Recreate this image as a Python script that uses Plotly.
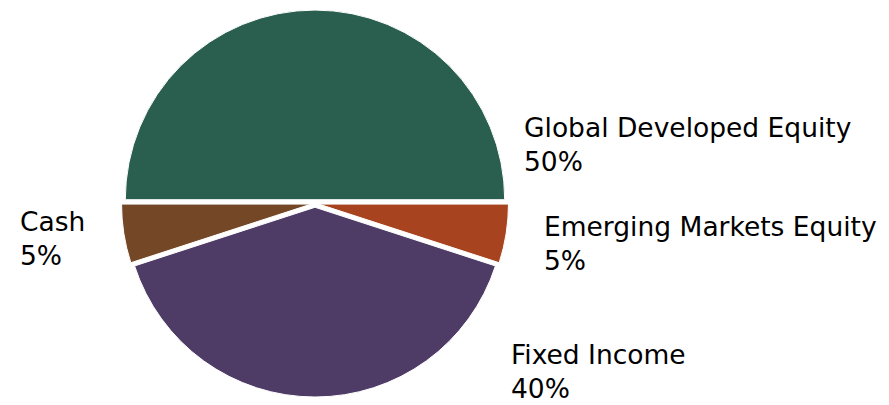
import plotly.graph_objects as go

# Portfolio allocation
labels = ["Global Developed Equity", "Emerging Markets Equity", "Fixed Income", "Cash"]
values = [50, 5, 40, 5]
colors = ["#2a5e4f", "#a8431f", "#4e3b66", "#744826"]

# Label anchor points (pixel positions in an 889x405 canvas): left x, vertical centre of the block
label_pos = {
    "Global Developed Equity": (522, 144),
    "Emerging Markets Equity": (542, 243),
    "Fixed Income": (509, 371),
    "Cash": (18, 238),
}

W, H = 889, 405

fig = go.Figure(
    go.Pie(
        labels=labels,
        values=values,
        marker=dict(colors=colors, line=dict(color="white", width=1)),
        sort=False,
        direction="clockwise",
        rotation=-90,
        pull=[0.02] * len(values),
        textinfo="none",
        hoverinfo="label+percent",
        domain=dict(x=[121.5 / W, 508.5 / W], y=[8 / H, 395 / H]),
    )
)

total = sum(values)
annotations = []
for lab, val in zip(labels, values):
    px, py = label_pos[lab]
    annotations.append(
        dict(
            text=f"{lab}<br>{round(100 * val / total)}%",
            x=px / W,
            y=1 - py / H,
            xref="paper",
            yref="paper",
            xanchor="left",
            yanchor="middle",
            align="left",
            showarrow=False,
            font=dict(family="DejaVu Sans", size=26.5, color="#000000"),
        )
    )

fig.update_layout(
    width=W,
    height=H,
    margin=dict(l=0, r=0, t=0, b=0),
    paper_bgcolor="white",
    plot_bgcolor="white",
    showlegend=False,
    annotations=annotations,
)

fig.write_html("out.html")
